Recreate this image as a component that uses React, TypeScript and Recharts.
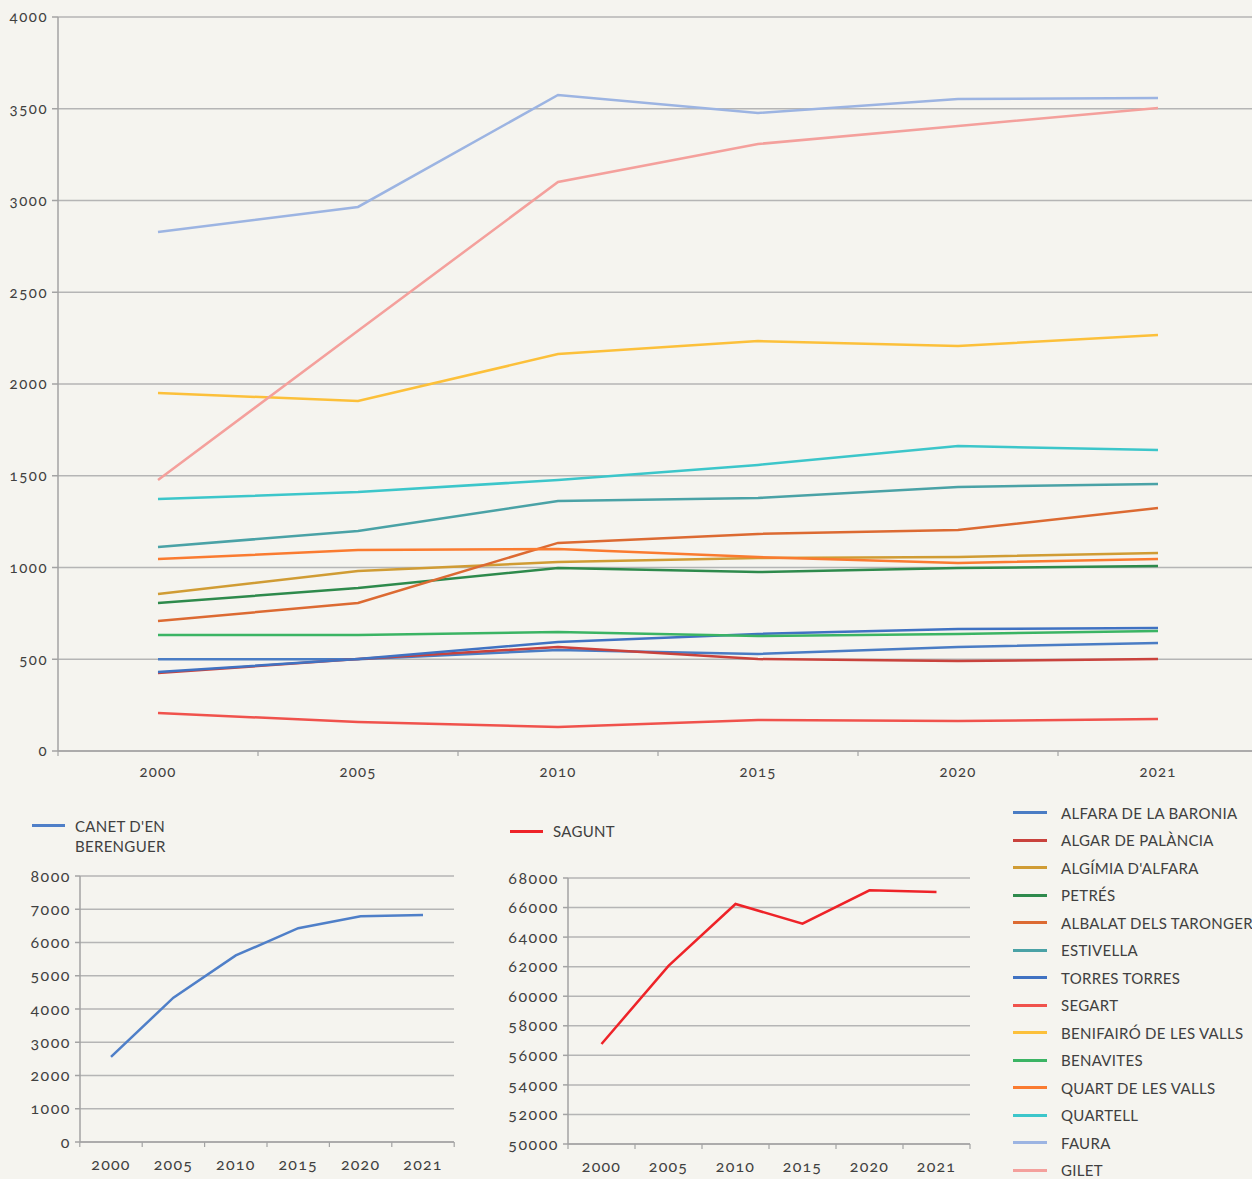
import React from "react";
import { LineChart, Line, XAxis, YAxis, CartesianGrid } from "recharts";

const years = ["2000", "2005", "2010", "2015", "2020", "2021"];

const alfara = [500, 500, 550, 529, 567, 589];
const algar = [425, 501, 567, 501, 490, 501];
const algimia = [856, 981, 1030, 1052, 1057, 1079];
const petres = [807, 888, 997, 975, 997, 1008];
const albalat = [708, 807, 1134, 1183, 1204, 1324];
const estivella = [1112, 1199, 1362, 1379, 1439, 1455];
const torres = [430, 501, 594, 638, 665, 670];
const segart = [207, 158, 131, 169, 163, 174];
const benifairo = [1951, 1907, 2163, 2234, 2207, 2267];
const benavites = [632, 632, 648, 627, 638, 654];
const quart = [1046, 1095, 1101, 1057, 1025, 1046];
const quartell = [1373, 1411, 1477, 1559, 1662, 1640];
const faura = [2828, 2965, 3575, 3477, 3553, 3559];
const gilet = [1477, 2290, 3101, 3308, 3406, 3504];

const canet = [2560, 4340, 5610, 6430, 6790, 6830];
const sagunt = [56770, 62050, 66240, 64910, 67170, 67060];

const mainTicks = [0, 500, 1000, 1500, 2000, 2500, 3000, 3500, 4000];
const canetTicks = [0, 1000, 2000, 3000, 4000, 5000, 6000, 7000, 8000];
const saguntTicks = [50000, 52000, 54000, 56000, 58000, 60000, 62000, 64000, 66000, 68000];

const series = [
  { key: "alfara", name: "ALFARA DE LA BARONIA", values: alfara, color: "#4a7cc4" },
  { key: "algar", name: "ALGAR DE PALÀNCIA", values: algar, color: "#c9423c" },
  { key: "algimia", name: "ALGÍMIA D'ALFARA", values: algimia, color: "#d09c34" },
  { key: "petres", name: "PETRÉS", values: petres, color: "#2e8a4c" },
  { key: "albalat", name: "ALBALAT DELS TARONGERS", values: albalat, color: "#dc6a32" },
  { key: "estivella", name: "ESTIVELLA", values: estivella, color: "#4aa2a6" },
  { key: "torres", name: "TORRES TORRES", values: torres, color: "#4072c2" },
  { key: "segart", name: "SEGART", values: segart, color: "#f0524c" },
  { key: "benifairo", name: "BENIFAIRÓ DE LES VALLS", values: benifairo, color: "#fcc03a" },
  { key: "benavites", name: "BENAVITES", values: benavites, color: "#3bb464" },
  { key: "quart", name: "QUART DE LES VALLS", values: quart, color: "#fa7b30" },
  { key: "quartell", name: "QUARTELL", values: quartell, color: "#3cc6ca" },
  { key: "faura", name: "FAURA", values: faura, color: "#9cb4e2" },
  { key: "gilet", name: "GILET", values: gilet, color: "#f4a09c" },
];

const mainData = years.map((year, i) => {
  const row: Record<string, string | number> = { year };
  series.forEach((s) => {
    row[s.key] = s.values[i];
  });
  return row;
});
const canetData = years.map((year, i) => ({ year, value: canet[i] }));
const saguntData = years.map((year, i) => ({ year, value: sagunt[i] }));

const AXIS = "#a3a3a3";
const GRID = "#b5b5b5";
const TEXT = "#404040";

// year label centred in its band, tick marks on the band edges
function BandTick(props: any) {
  const { x, y, payload, index, half, count, fontSize, gap } = props;
  return (
    <g>
      <line x1={x - half} x2={x - half} y1={y} y2={y + 5} stroke={AXIS} strokeWidth={1.2} />
      {index === count - 1 && (
        <line x1={x + half} x2={x + half} y1={y} y2={y + 5} stroke={AXIS} strokeWidth={1.2} />
      )}
      <text
        x={x}
        y={y + gap}
        textAnchor="middle"
        dominantBaseline="middle"
        fontSize={fontSize}
        fill={TEXT}
        letterSpacing={1.2}
      >
        {payload.value}
      </text>
    </g>
  );
}

export default function App() {
  return (
    <div
      style={{
        position: "fixed",
        left: 0,
        top: 0,
        width: 1252,
        height: 1179,
        overflow: "hidden",
        background: "#f5f4ef",
        fontFamily: "Lato, 'Open Sans', sans-serif",
        fontVariantNumeric: "oldstyle-nums",
        color: TEXT,
      }}
    >
      <div style={{ position: "absolute", left: 0, top: 0 }}>
        <LineChart width={1270} height={791} data={mainData} margin={{ top: 17, right: 12, left: 0, bottom: 0 }}>
          <CartesianGrid vertical={false} stroke={GRID} strokeWidth={1.5} />
          <XAxis
            dataKey="year"
            height={40}
            padding={{ left: 100, right: 100 }}
            axisLine={{ stroke: AXIS, strokeWidth: 1.5 }}
            tickLine={false}
            tickSize={0}
            tickMargin={0}
            interval={0}
            tick={(p: any) => <BandTick {...p} half={100} count={years.length} fontSize={15} gap={22} />}
          />
          <YAxis
            width={58}
            domain={[0, 4000]}
            ticks={mainTicks}
            interval={0}
            tickSize={6}
            tickMargin={4}
            axisLine={{ stroke: AXIS, strokeWidth: 1.5 }}
            tickLine={{ stroke: AXIS, strokeWidth: 1.5 }}
            tick={{ fontSize: 15, fill: TEXT, letterSpacing: 1.5 }}
          />
          {series.map((s) => (
            <Line
              key={s.key}
              dataKey={s.key}
              name={s.name}
              stroke={s.color}
              strokeWidth={2.5}
              dot={false}
              activeDot={false}
              isAnimationActive={false}
            />
          ))}
        </LineChart>
      </div>

      {/* CANET legend */}
      <div style={{ position: "absolute", left: 32, top: 816, display: "flex", alignItems: "flex-start" }}>
        <div style={{ width: 33, height: 3, background: "#4f7fc8", marginTop: 8, marginRight: 10 }} />
        <div style={{ fontSize: 15, lineHeight: "20px", letterSpacing: 0.3 }}>
          CANET D'EN
          <br />
          BERENGUER
        </div>
      </div>

      <div style={{ position: "absolute", left: 0, top: 860 }}>
        <LineChart width={470} height={320} data={canetData} margin={{ top: 16, right: 16, left: 0, bottom: 0 }}>
          <CartesianGrid vertical={false} stroke={GRID} strokeWidth={1.5} />
          <XAxis
            dataKey="year"
            height={38}
            padding={{ left: 31, right: 31 }}
            axisLine={{ stroke: AXIS, strokeWidth: 1.5 }}
            tickLine={false}
            tickSize={0}
            tickMargin={0}
            interval={0}
            tick={(p: any) => <BandTick {...p} half={31.2} count={years.length} fontSize={16} gap={24} />}
          />
          <YAxis
            width={80}
            domain={[0, 8000]}
            ticks={canetTicks}
            interval={0}
            tickSize={5}
            tickMargin={4}
            axisLine={{ stroke: AXIS, strokeWidth: 1.5 }}
            tickLine={{ stroke: AXIS, strokeWidth: 1.5 }}
            tick={{ fontSize: 16, fill: TEXT, letterSpacing: 1.5 }}
          />
          <Line
            dataKey="value"
            name="CANET D'EN BERENGUER"
            stroke="#4f7fc8"
            strokeWidth={2.5}
            dot={false}
            activeDot={false}
            isAnimationActive={false}
          />
        </LineChart>
      </div>

      {/* SAGUNT legend */}
      <div style={{ position: "absolute", left: 510, top: 821, display: "flex", alignItems: "center" }}>
        <div style={{ width: 33, height: 3, background: "#ee2328", marginRight: 10 }} />
        <div style={{ fontSize: 15, lineHeight: "20px", letterSpacing: 0.3 }}>SAGUNT</div>
      </div>

      <div style={{ position: "absolute", left: 480, top: 860 }}>
        <LineChart width={500} height={320} data={saguntData} margin={{ top: 18, right: 10, left: 0, bottom: 0 }}>
          <CartesianGrid vertical={false} stroke={GRID} strokeWidth={1.5} />
          <XAxis
            dataKey="year"
            height={36}
            padding={{ left: 33.5, right: 33.5 }}
            axisLine={{ stroke: AXIS, strokeWidth: 1.5 }}
            tickLine={false}
            tickSize={0}
            tickMargin={0}
            interval={0}
            tick={(p: any) => <BandTick {...p} half={33.5} count={years.length} fontSize={16} gap={24} />}
          />
          <YAxis
            width={88}
            domain={[50000, 68000]}
            ticks={saguntTicks}
            interval={0}
            tickSize={5}
            tickMargin={4}
            axisLine={{ stroke: AXIS, strokeWidth: 1.5 }}
            tickLine={{ stroke: AXIS, strokeWidth: 1.5 }}
            tick={{ fontSize: 16, fill: TEXT, letterSpacing: 1.5 }}
          />
          <Line
            dataKey="value"
            name="SAGUNT"
            stroke="#ee2328"
            strokeWidth={2.5}
            dot={false}
            activeDot={false}
            isAnimationActive={false}
          />
        </LineChart>
      </div>

      {/* main legend */}
      <div style={{ position: "absolute", left: 1013, top: 799 }}>
        {series.map((s) => (
          <div key={s.key} style={{ display: "flex", alignItems: "center", height: 27.5, whiteSpace: "nowrap" }}>
            <div style={{ width: 34, height: 3, background: s.color, marginRight: 14, flex: "none" }} />
            <div style={{ fontSize: 15, letterSpacing: 0.3 }}>{s.name}</div>
          </div>
        ))}
      </div>
    </div>
  );
}
